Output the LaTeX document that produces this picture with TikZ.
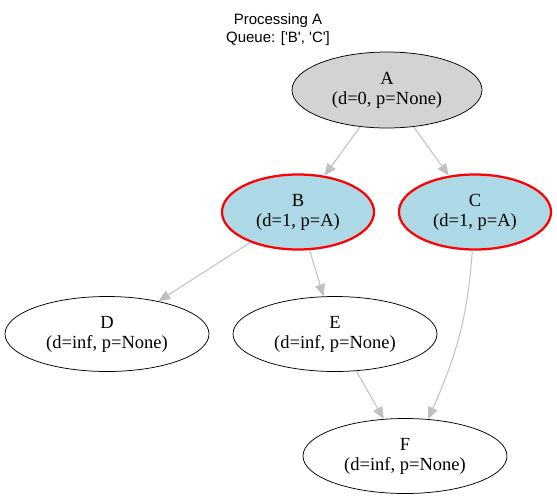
\documentclass[tikz,border=0pt]{standalone}
\usepackage{fontspec}
\setmainfont{Liberation Serif}
\newfontfamily\titlefont{Liberation Sans}
\usetikzlibrary{arrows.meta,shapes.geometric}
\definecolor{edgegray}{HTML}{C0C0C0}
\definecolor{visitgray}{HTML}{D3D3D3}
\definecolor{queueblue}{HTML}{ADD8E6}
\tikzset{every picture/.style={line width=0.75pt}}
\tikzstyle{vert}=[ellipse,draw=black,fill=white,inner sep=0pt,minimum height=75pt,minimum width=204pt,align=center,font=\fontsize{18.5}{20}\selectfont]
\tikzstyle{done}=[vert,fill=visitgray,minimum width=190pt,minimum height=76pt]
\tikzstyle{queued}=[vert,fill=queueblue,draw=red,line width=2.25pt,minimum width=152pt]

\begin{document}
\begin{tikzpicture}[x=1pt,y=-1pt]
\useasboundingbox (0,0) rectangle (557,499);
\node (T) at (278,30) [align=center,font=\titlefont\fontsize{15}{18}\selectfont] {Processing A\\Queue: [\textquotesingle B\textquotesingle, \textquotesingle C\textquotesingle]};
\node[done] (A) at (387,90) {A\\(d=0, p=None)};
\node[queued] (B) at (298,212) {B\\(d=1, p=A)};
\node[queued] (C) at (475,212) {C\\(d=1, p=A)};
\node[vert] (D) at (107,334) {D\\(d=inf, p=None)};
\node[vert] (E) at (335,334) {E\\(d=inf, p=None)};
\node[vert] (F) at (405,456) {F\\(d=inf, p=None)};
\path[-{Triangle[length=12pt,width=10pt,fill=edgegray]},draw=edgegray,line width=1pt]
(A) edge (B)
(A) edge (C)
(B) edge (D)
(B) edge (E)
(E) edge (F)
(C) edge[out=-94,in=66] (F.58);
\end{tikzpicture}
\end{document}
